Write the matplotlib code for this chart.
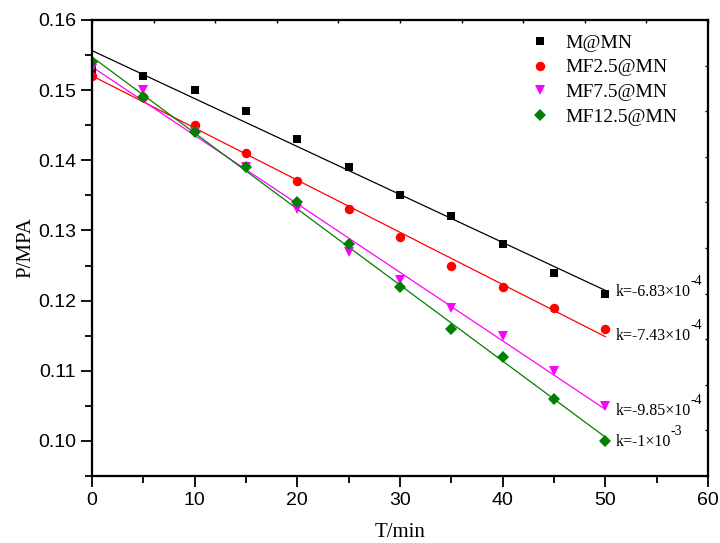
import numpy as np
import matplotlib
matplotlib.use("Agg")
import matplotlib.pyplot as plt
from matplotlib.ticker import MultipleLocator

t = [0, 5, 10, 15, 20, 25, 30, 35, 40, 45, 50]
p_m = [0.153, 0.152, 0.150, 0.147, 0.143, 0.139, 0.135, 0.132, 0.128, 0.124, 0.121]
p_mf25 = [0.152, 0.149, 0.145, 0.141, 0.137, 0.133, 0.129, 0.125, 0.122, 0.119, 0.116]
p_mf75 = [0.153, 0.150, 0.144, 0.139, 0.133, 0.127, 0.123, 0.119, 0.115, 0.110, 0.105]
p_mf125 = [0.154, 0.149, 0.144, 0.139, 0.134, 0.128, 0.122, 0.116, 0.112, 0.106, 0.100]

labels = ['M@MN', 'MF2.5@MN', 'MF7.5@MN', 'MF12.5@MN']
k_base = ['k=-6.83×10', 'k=-7.43×10', 'k=-9.85×10', 'k=-1×10']
k_exp = ['-4', '-4', '-4', '-3']
k_text_y = [0.1212, 0.1150, 0.1043, 0.0999]

series = [p_m, p_mf25, p_mf75, p_mf125]
colors = ['black', '#ff0000', '#ff00ff', '#008000']
markers = ['s', 'o', 'v', 'D']
msizes = [6.3, 6.8, 7.8, 6.0]

fig = plt.figure(figsize=(7.2, 5.43), dpi=100)
ax = fig.add_axes([92/720, 1-476/543, 616/720, 456/543])

ax.set_xlim(0, 60)
ax.set_ylim(0.095, 0.16)

x = np.array(t, dtype=float)
handles = []
for ys, c in zip(series, colors):
    coef = np.polyfit(x, ys, 1)
    xf = np.array([0.0, 50.0])
    ax.plot(xf, np.polyval(coef, xf), color=c, lw=0.9, zorder=2)
for ys, c, m, ms, lab in zip(series, colors, markers, msizes, labels):
    h, = ax.plot(x, ys, linestyle='none', marker=m, color=c, ms=ms,
                 markeredgewidth=0, label=lab, zorder=3)
    handles.append(h)

for base, ex, ty in zip(k_base, k_exp, k_text_y):
    tx = ax.text(51.0, ty, base, fontsize=11.5, family='Liberation Serif',
                 va='center', ha='left')
    ax.annotate(ex, xy=(1, 1), xycoords=tx,
                xytext=(0, -3), textcoords='offset points',
                fontsize=10, family='Liberation Serif', va='bottom', ha='left')

ax.set_xlim(0, 60)
ax.set_ylim(0.095, 0.16)
ax.xaxis.set_major_locator(MultipleLocator(10))
ax.xaxis.set_minor_locator(MultipleLocator(5))
ax.yaxis.set_major_locator(MultipleLocator(0.01))
ax.yaxis.set_minor_locator(MultipleLocator(0.005))
ax.yaxis.set_major_formatter(matplotlib.ticker.FormatStrFormatter('%.2f'))
ax.tick_params(which='major', direction='out', length=8, width=1.3,
               labelsize=14, top=False, right=False)
ax.tick_params(which='minor', direction='out', length=5, width=1.3,
               top=False, right=False)
for lab in ax.get_xticklabels() + ax.get_yticklabels():
    lab.set_family('Liberation Sans')
for s in ax.spines.values():
    s.set_linewidth(1.5)

ax.set_xlabel('T/min', fontsize=15, family='Liberation Serif', labelpad=10)
ax.set_ylabel('P/MPA', fontsize=15, family='Liberation Serif', labelpad=2)

# small tick marks on top and right edges
axt = ax.twiny()
axt.set_xlim(0, 1)
axt.set_xticks(np.linspace(0, 1, 11))
axt.tick_params(axis='x', direction='in', length=2.5, width=1.0, labeltop=False)
axr = ax.twinx()
axr.set_ylim(0, 1)
axr.set_yticks(np.linspace(0, 1, 11))
axr.tick_params(axis='y', direction='in', length=2.5, width=1.0, labelright=False)
for a in (axt, axr):
    for s in a.spines.values():
        s.set_linewidth(1.5)

leg = ax.legend(handles=handles, loc='upper left',
                bbox_to_anchor=((530 - 92) / 616, (476 - 34) / 456),
                frameon=False, borderaxespad=0, borderpad=0,
                handlelength=1.0, handletextpad=0.8, labelspacing=0.37,
                prop={'family': 'Liberation Serif', 'size': 14})

fig.savefig('out.png', dpi=100)
